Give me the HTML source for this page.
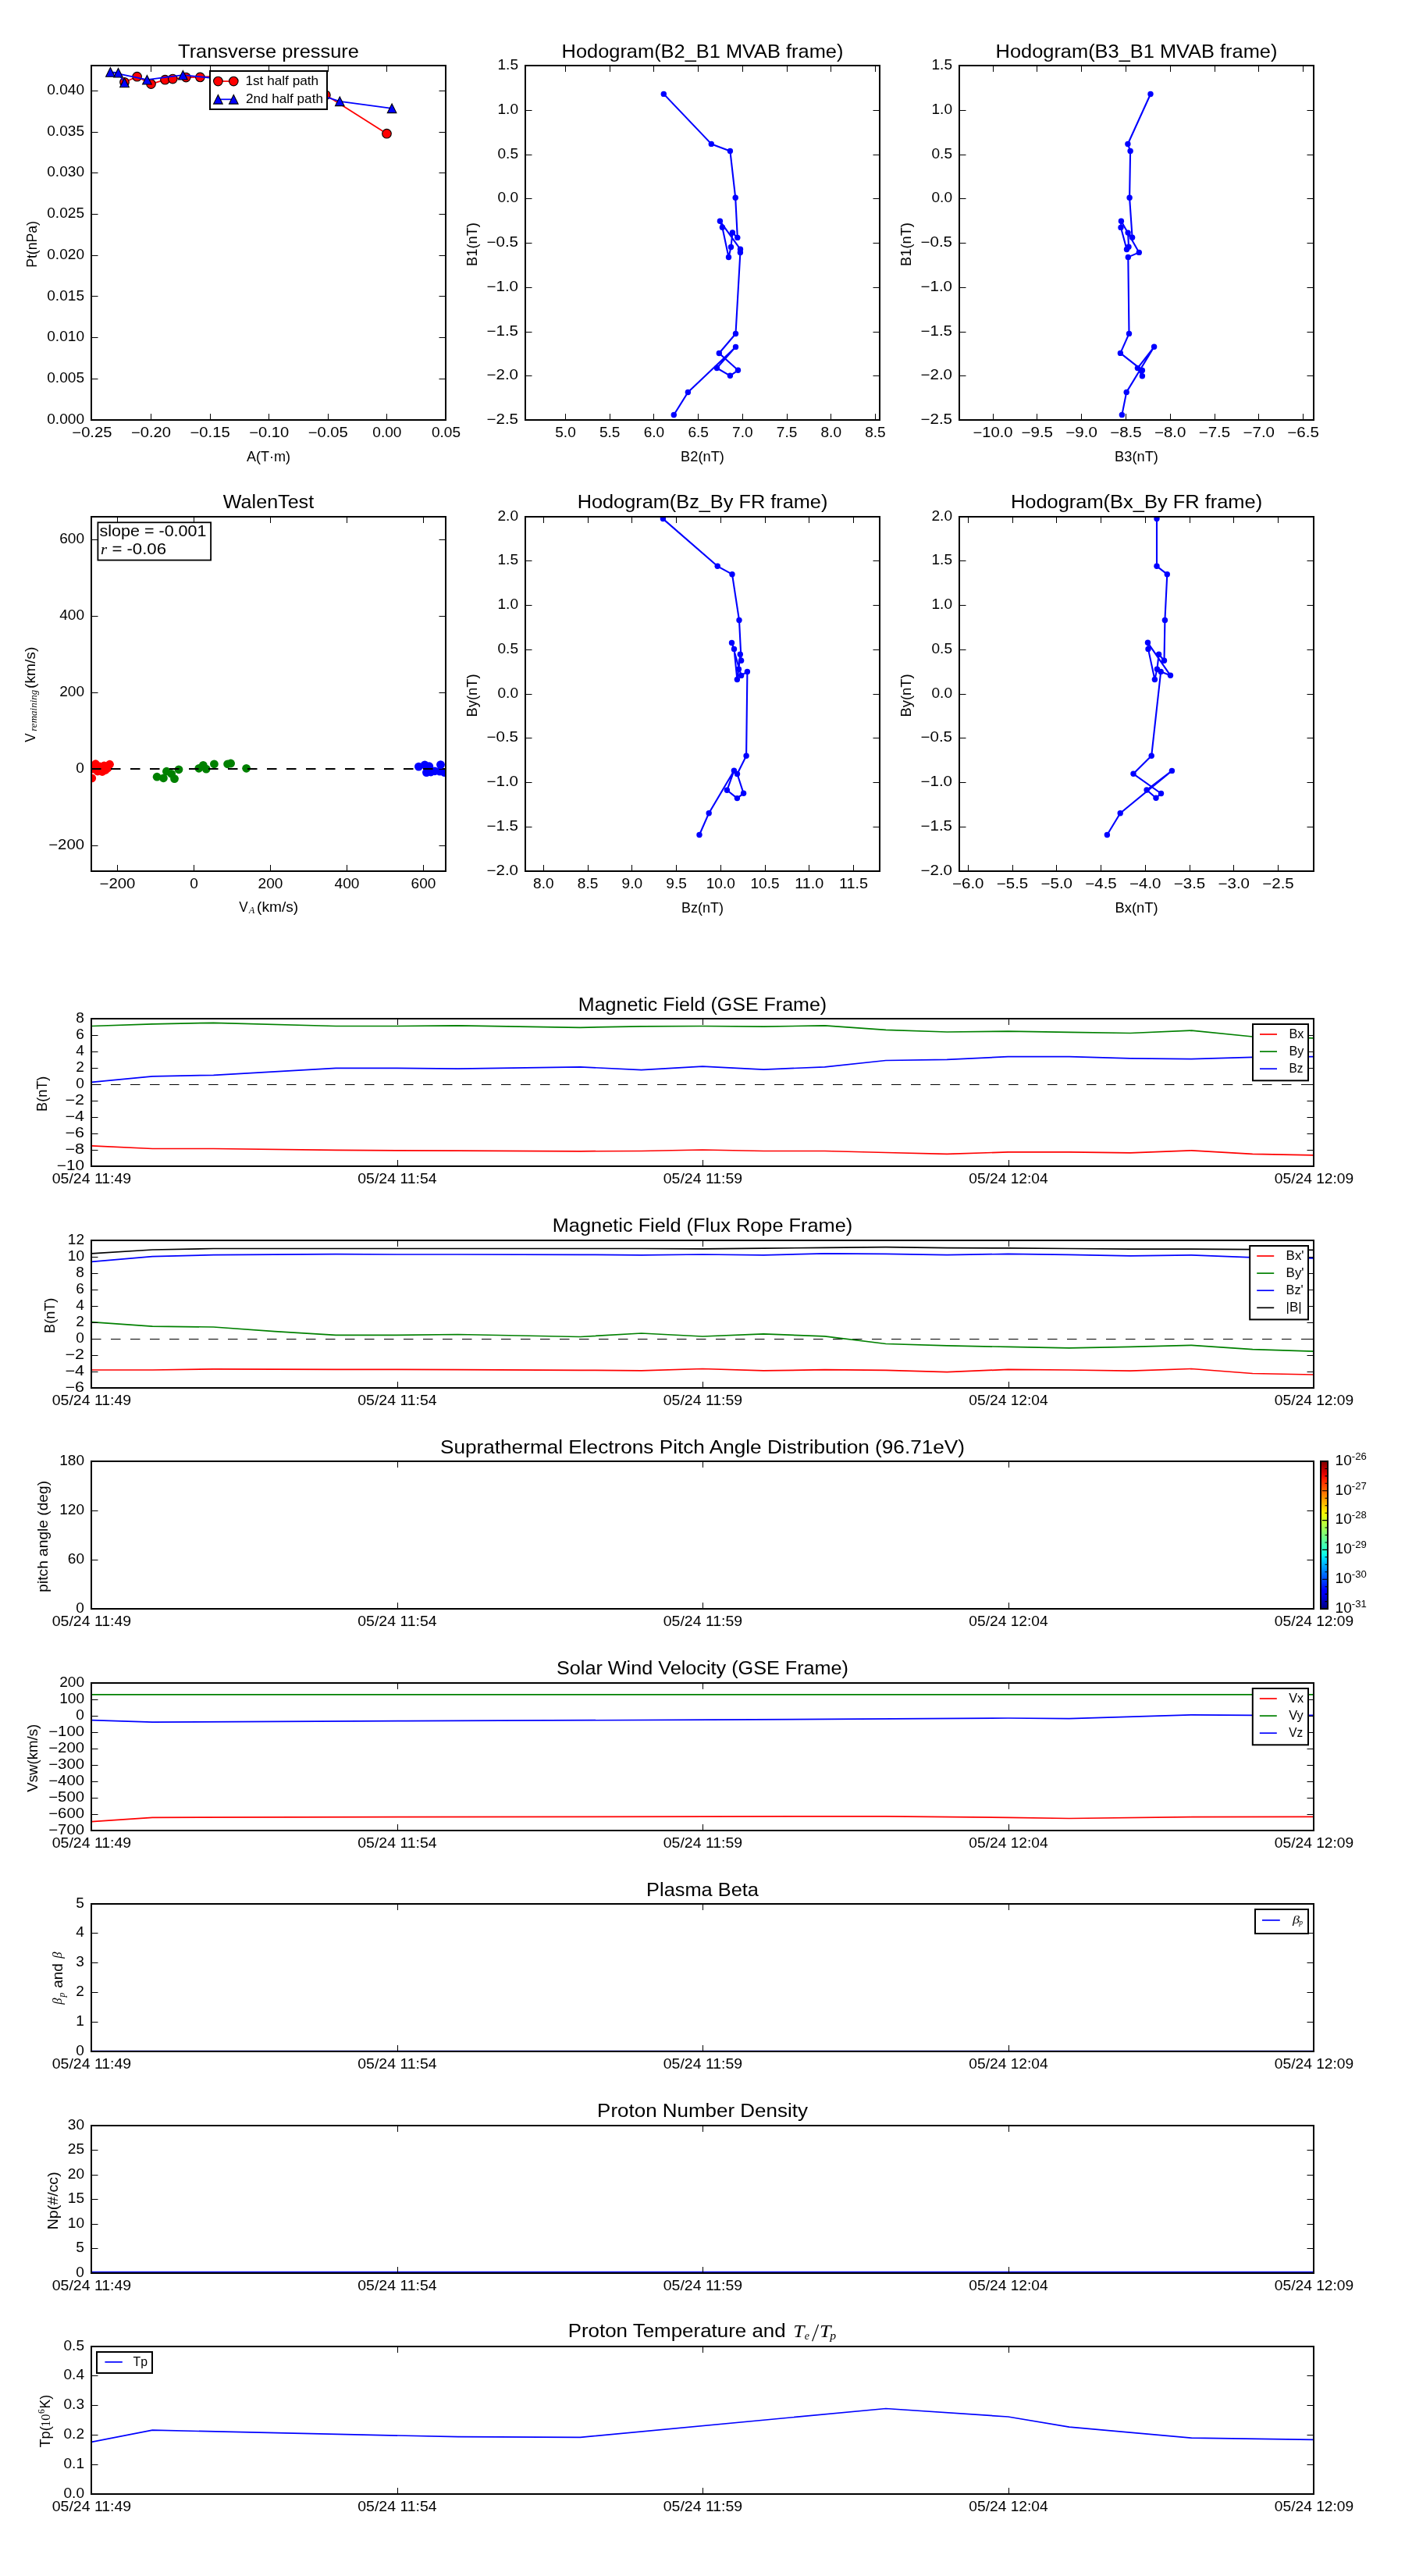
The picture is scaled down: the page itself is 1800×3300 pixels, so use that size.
<!DOCTYPE html><html><head><meta charset="utf-8"><style>html,body{margin:0;padding:0;background:#fff;}svg{display:block;font-family:"Liberation Sans",sans-serif;will-change:transform;}</style></head><body><svg width="1800" height="3300" viewBox="0 0 1800 3300" font-family="Liberation Sans, sans-serif" shape-rendering="geometricPrecision"><defs><clipPath id="c1"><rect x="117.0" y="84.0" width="454.0" height="454.0"/></clipPath><clipPath id="c2"><rect x="673.0" y="84.0" width="454.0" height="454.0"/></clipPath><clipPath id="c3"><rect x="1229.0" y="84.0" width="454.0" height="454.0"/></clipPath><clipPath id="c4"><rect x="117.0" y="662.0" width="454.0" height="454.0"/></clipPath><clipPath id="c5"><rect x="673.0" y="662.0" width="454.0" height="454.0"/></clipPath><clipPath id="c6"><rect x="1229.0" y="662.0" width="454.0" height="454.0"/></clipPath><clipPath id="c7"><rect x="117.0" y="1305.0" width="1566.0" height="189.0"/></clipPath><clipPath id="c8"><rect x="117.0" y="1589.0" width="1566.0" height="189.0"/></clipPath><linearGradient id="jet" x1="0" y1="0" x2="0" y2="1"><stop offset="0.000" stop-color="#7f0000"/><stop offset="0.025" stop-color="#9c0000"/><stop offset="0.050" stop-color="#b90000"/><stop offset="0.075" stop-color="#d60000"/><stop offset="0.100" stop-color="#f30900"/><stop offset="0.125" stop-color="#ff2100"/><stop offset="0.150" stop-color="#ff3800"/><stop offset="0.175" stop-color="#ff5000"/><stop offset="0.200" stop-color="#ff6700"/><stop offset="0.225" stop-color="#ff7f00"/><stop offset="0.250" stop-color="#ff9700"/><stop offset="0.275" stop-color="#ffae00"/><stop offset="0.300" stop-color="#ffc600"/><stop offset="0.325" stop-color="#ffdd00"/><stop offset="0.350" stop-color="#f6f500"/><stop offset="0.375" stop-color="#e2ff14"/><stop offset="0.400" stop-color="#cdff29"/><stop offset="0.425" stop-color="#b9ff3d"/><stop offset="0.450" stop-color="#a4ff52"/><stop offset="0.475" stop-color="#8fff66"/><stop offset="0.500" stop-color="#7bff7b"/><stop offset="0.525" stop-color="#66ff8f"/><stop offset="0.550" stop-color="#52ffa4"/><stop offset="0.575" stop-color="#3dffb9"/><stop offset="0.600" stop-color="#29ffcd"/><stop offset="0.625" stop-color="#14ffe2"/><stop offset="0.650" stop-color="#00e5f6"/><stop offset="0.675" stop-color="#00cbff"/><stop offset="0.700" stop-color="#00b2ff"/><stop offset="0.725" stop-color="#0099ff"/><stop offset="0.750" stop-color="#007fff"/><stop offset="0.775" stop-color="#0065ff"/><stop offset="0.800" stop-color="#004cff"/><stop offset="0.825" stop-color="#0033ff"/><stop offset="0.850" stop-color="#0019ff"/><stop offset="0.875" stop-color="#0000ff"/><stop offset="0.900" stop-color="#0000f3"/><stop offset="0.925" stop-color="#0000d6"/><stop offset="0.950" stop-color="#0000b9"/><stop offset="0.975" stop-color="#00009c"/><stop offset="1.000" stop-color="#00007f"/></linearGradient><clipPath id="c9"><rect x="117.0" y="2156.0" width="1566.0" height="189.0"/></clipPath><clipPath id="c10"><rect x="117.0" y="2439.0" width="1566.0" height="189.0"/></clipPath><clipPath id="c11"><rect x="117.0" y="2723.0" width="1566.0" height="189.0"/></clipPath><clipPath id="c12"><rect x="117.0" y="3006.0" width="1566.0" height="189.0"/></clipPath></defs><rect width="1800" height="3300" fill="#fff"/><polyline points="159.5,105.3 175.6,98.2 193.5,107.6 211.5,102.2 221.3,101.1 238.3,99.1 256.4,98.9 285.0,97.0 340.0,103.0 380.0,110.0 417.4,121.8 495.5,171.2" fill="none" stroke="#ff0000" stroke-width="1.80" stroke-linejoin="round" clip-path="url(#c1)"/>
<g fill="#ff0000" stroke="#000" stroke-width="1.10" clip-path="url(#c1)">
<circle cx="159.5" cy="105.3" r="5.80"/>
<circle cx="175.6" cy="98.2" r="5.80"/>
<circle cx="193.5" cy="107.6" r="5.80"/>
<circle cx="211.5" cy="102.2" r="5.80"/>
<circle cx="221.3" cy="101.1" r="5.80"/>
<circle cx="238.3" cy="99.1" r="5.80"/>
<circle cx="256.4" cy="98.9" r="5.80"/>
<circle cx="417.4" cy="121.8" r="5.80"/>
<circle cx="495.5" cy="171.2" r="5.80"/>
</g>
<polyline points="159.5,105.9 151.5,93.2 141.4,92.4 188.4,102.2 234.4,96.2 268.0,99.5 330.0,106.0 380.0,112.0 435.3,129.8 502.1,138.8" fill="none" stroke="#0000ff" stroke-width="1.80" stroke-linejoin="round" clip-path="url(#c1)"/>
<g fill="#0000ff" stroke="#000" stroke-width="1.1" stroke-linejoin="miter" clip-path="url(#c1)">
<polygon points="159.5,100.1 153.7,111.7 165.3,111.7"/>
<polygon points="151.5,87.4 145.7,99.0 157.3,99.0"/>
<polygon points="141.4,86.6 135.6,98.2 147.2,98.2"/>
<polygon points="188.4,96.4 182.6,108.0 194.2,108.0"/>
<polygon points="234.4,90.4 228.6,102.0 240.2,102.0"/>
<polygon points="435.3,124.0 429.5,135.6 441.1,135.6"/>
<polygon points="502.1,133.0 496.3,144.6 507.9,144.6"/>
</g>
<path d="M117.5 538.0V530.0M117.5 84.0V92.0M193.5 538.0V530.0M193.5 84.0V92.0M269.5 538.0V530.0M269.5 84.0V92.0M344.5 538.0V530.0M344.5 84.0V92.0M420.5 538.0V530.0M420.5 84.0V92.0M495.5 538.0V530.0M495.5 84.0V92.0M571.5 538.0V530.0M571.5 84.0V92.0M117.0 538.5H125.5M571.0 538.5H562.5M117.0 485.5H125.5M571.0 485.5H562.5M117.0 432.5H125.5M571.0 432.5H562.5M117.0 379.5H125.5M571.0 379.5H562.5M117.0 327.5H125.5M571.0 327.5H562.5M117.0 274.5H125.5M571.0 274.5H562.5M117.0 221.5H125.5M571.0 221.5H562.5M117.0 169.5H125.5M571.0 169.5H562.5M117.0 116.5H125.5M571.0 116.5H562.5" stroke="#000" stroke-width="1" fill="none"/>
<rect x="117.0" y="84.0" width="454.0" height="454.0" fill="none" stroke="#000" stroke-width="2"/>
<text x="117.90" y="560.20" font-size="17.75" text-anchor="middle" textLength="51.08" lengthAdjust="spacingAndGlyphs">−0.25</text>
<text x="193.50" y="560.20" font-size="17.75" text-anchor="middle" textLength="51.08" lengthAdjust="spacingAndGlyphs">−0.20</text>
<text x="269.10" y="560.20" font-size="17.75" text-anchor="middle" textLength="51.08" lengthAdjust="spacingAndGlyphs">−0.15</text>
<text x="344.70" y="560.20" font-size="17.75" text-anchor="middle" textLength="51.08" lengthAdjust="spacingAndGlyphs">−0.10</text>
<text x="420.30" y="560.20" font-size="17.75" text-anchor="middle" textLength="51.08" lengthAdjust="spacingAndGlyphs">−0.05</text>
<text x="495.90" y="560.20" font-size="17.75" text-anchor="middle" textLength="37.12" lengthAdjust="spacingAndGlyphs">0.00</text>
<text x="571.50" y="560.20" font-size="17.75" text-anchor="middle" textLength="37.12" lengthAdjust="spacingAndGlyphs">0.05</text>
<text x="108.00" y="542.60" font-size="17.75" text-anchor="end" textLength="47.72" lengthAdjust="spacingAndGlyphs">0.000</text>
<text x="108.00" y="489.91" font-size="17.75" text-anchor="end" textLength="47.72" lengthAdjust="spacingAndGlyphs">0.005</text>
<text x="108.00" y="437.22" font-size="17.75" text-anchor="end" textLength="47.72" lengthAdjust="spacingAndGlyphs">0.010</text>
<text x="108.00" y="384.53" font-size="17.75" text-anchor="end" textLength="47.72" lengthAdjust="spacingAndGlyphs">0.015</text>
<text x="108.00" y="331.84" font-size="17.75" text-anchor="end" textLength="47.72" lengthAdjust="spacingAndGlyphs">0.020</text>
<text x="108.00" y="279.15" font-size="17.75" text-anchor="end" textLength="47.72" lengthAdjust="spacingAndGlyphs">0.025</text>
<text x="108.00" y="226.46" font-size="17.75" text-anchor="end" textLength="47.72" lengthAdjust="spacingAndGlyphs">0.030</text>
<text x="108.00" y="173.77" font-size="17.75" text-anchor="end" textLength="47.72" lengthAdjust="spacingAndGlyphs">0.035</text>
<text x="108.00" y="121.08" font-size="17.75" text-anchor="end" textLength="47.72" lengthAdjust="spacingAndGlyphs">0.040</text>
<rect x="269.0" y="91.0" width="150.0" height="49.0" fill="#fff" stroke="#000" stroke-width="2"/>
<polyline points="279.4,104.1 299.3,104.1" fill="none" stroke="#ff0000" stroke-width="1.70" stroke-linejoin="round"/>
<g fill="#ff0000" stroke="#000" stroke-width="1.10">
<circle cx="279.4" cy="104.1" r="5.80"/>
<circle cx="299.3" cy="104.1" r="5.80"/>
</g>
<text x="314.40" y="108.60" font-size="15.76" text-anchor="start" textLength="93.76" lengthAdjust="spacingAndGlyphs">1st half path</text>
<polyline points="279.4,127.3 299.3,127.3" fill="none" stroke="#0000ff" stroke-width="1.70" stroke-linejoin="round"/>
<g fill="#0000ff" stroke="#000" stroke-width="1.1" stroke-linejoin="miter">
<polygon points="279.4,121.5 273.6,133.1 285.2,133.1"/>
<polygon points="299.3,121.5 293.5,133.1 305.1,133.1"/>
</g>
<text x="314.90" y="131.60" font-size="15.76" text-anchor="start" textLength="99.02" lengthAdjust="spacingAndGlyphs">2nd half path</text>
<text x="344.00" y="73.80" font-size="24.60" text-anchor="middle" textLength="231.79" lengthAdjust="spacingAndGlyphs">Transverse pressure</text>
<text x="344.00" y="591.00" font-size="17.75" text-anchor="middle" textLength="56.13" lengthAdjust="spacingAndGlyphs">A(T·m)</text>
<text transform="translate(46.90 313.00) rotate(-90)" x="0" y="0" font-size="17.75" text-anchor="middle" textLength="59.68" lengthAdjust="spacingAndGlyphs">Pt(nPa)</text>
<polyline points="850.3,120.4 911.3,184.4 935.4,193.4 942.2,253.3 944.8,304.4 938.4,298.0 936.5,316.5 933.5,329.5 925.4,291.3 922.4,283.2 948.5,319.3 948.4,323.5 942.5,427.5 921.3,452.5 945.5,474.3 935.4,481.3 918.4,471.5 942.5,444.4 881.4,502.5 863.3,531.5" fill="none" stroke="#0000ff" stroke-width="2.10" stroke-linejoin="round" clip-path="url(#c2)"/>
<g fill="#0000ff" clip-path="url(#c2)">
<circle cx="850.3" cy="120.4" r="3.70"/>
<circle cx="911.3" cy="184.4" r="3.70"/>
<circle cx="935.4" cy="193.4" r="3.70"/>
<circle cx="942.2" cy="253.3" r="3.70"/>
<circle cx="944.8" cy="304.4" r="3.70"/>
<circle cx="938.4" cy="298.0" r="3.70"/>
<circle cx="936.5" cy="316.5" r="3.70"/>
<circle cx="933.5" cy="329.5" r="3.70"/>
<circle cx="925.4" cy="291.3" r="3.70"/>
<circle cx="922.4" cy="283.2" r="3.70"/>
<circle cx="948.5" cy="319.3" r="3.70"/>
<circle cx="948.4" cy="323.5" r="3.70"/>
<circle cx="942.5" cy="427.5" r="3.70"/>
<circle cx="921.3" cy="452.5" r="3.70"/>
<circle cx="945.5" cy="474.3" r="3.70"/>
<circle cx="935.4" cy="481.3" r="3.70"/>
<circle cx="918.4" cy="471.5" r="3.70"/>
<circle cx="942.5" cy="444.4" r="3.70"/>
<circle cx="881.4" cy="502.5" r="3.70"/>
<circle cx="863.3" cy="531.5" r="3.70"/>
</g>
<path d="M724.5 538.0V530.0M724.5 84.0V92.0M781.5 538.0V530.0M781.5 84.0V92.0M837.5 538.0V530.0M837.5 84.0V92.0M894.5 538.0V530.0M894.5 84.0V92.0M951.5 538.0V530.0M951.5 84.0V92.0M1008.5 538.0V530.0M1008.5 84.0V92.0M1064.5 538.0V530.0M1064.5 84.0V92.0M1121.5 538.0V530.0M1121.5 84.0V92.0M673.0 538.5H681.5M1127.0 538.5H1118.5M673.0 481.5H681.5M1127.0 481.5H1118.5M673.0 425.5H681.5M1127.0 425.5H1118.5M673.0 368.5H681.5M1127.0 368.5H1118.5M673.0 311.5H681.5M1127.0 311.5H1118.5M673.0 254.5H681.5M1127.0 254.5H1118.5M673.0 198.5H681.5M1127.0 198.5H1118.5M673.0 141.5H681.5M1127.0 141.5H1118.5M673.0 84.5H681.5M1127.0 84.5H1118.5" stroke="#000" stroke-width="1" fill="none"/>
<rect x="673.0" y="84.0" width="454.0" height="454.0" fill="none" stroke="#000" stroke-width="2"/>
<text x="724.50" y="560.20" font-size="17.75" text-anchor="middle" textLength="26.51" lengthAdjust="spacingAndGlyphs">5.0</text>
<text x="781.21" y="560.20" font-size="17.75" text-anchor="middle" textLength="26.51" lengthAdjust="spacingAndGlyphs">5.5</text>
<text x="837.92" y="560.20" font-size="17.75" text-anchor="middle" textLength="26.51" lengthAdjust="spacingAndGlyphs">6.0</text>
<text x="894.63" y="560.20" font-size="17.75" text-anchor="middle" textLength="26.51" lengthAdjust="spacingAndGlyphs">6.5</text>
<text x="951.34" y="560.20" font-size="17.75" text-anchor="middle" textLength="26.51" lengthAdjust="spacingAndGlyphs">7.0</text>
<text x="1008.05" y="560.20" font-size="17.75" text-anchor="middle" textLength="26.51" lengthAdjust="spacingAndGlyphs">7.5</text>
<text x="1064.76" y="560.20" font-size="17.75" text-anchor="middle" textLength="26.51" lengthAdjust="spacingAndGlyphs">8.0</text>
<text x="1121.47" y="560.20" font-size="17.75" text-anchor="middle" textLength="26.51" lengthAdjust="spacingAndGlyphs">8.5</text>
<text x="664.00" y="543.10" font-size="17.75" text-anchor="end" textLength="40.48" lengthAdjust="spacingAndGlyphs">−2.5</text>
<text x="664.00" y="486.35" font-size="17.75" text-anchor="end" textLength="40.48" lengthAdjust="spacingAndGlyphs">−2.0</text>
<text x="664.00" y="429.60" font-size="17.75" text-anchor="end" textLength="40.48" lengthAdjust="spacingAndGlyphs">−1.5</text>
<text x="664.00" y="372.85" font-size="17.75" text-anchor="end" textLength="40.48" lengthAdjust="spacingAndGlyphs">−1.0</text>
<text x="664.00" y="316.10" font-size="17.75" text-anchor="end" textLength="40.48" lengthAdjust="spacingAndGlyphs">−0.5</text>
<text x="664.00" y="259.35" font-size="17.75" text-anchor="end" textLength="26.51" lengthAdjust="spacingAndGlyphs">0.0</text>
<text x="664.00" y="202.60" font-size="17.75" text-anchor="end" textLength="26.51" lengthAdjust="spacingAndGlyphs">0.5</text>
<text x="664.00" y="145.85" font-size="17.75" text-anchor="end" textLength="26.51" lengthAdjust="spacingAndGlyphs">1.0</text>
<text x="664.00" y="89.10" font-size="17.75" text-anchor="end" textLength="26.51" lengthAdjust="spacingAndGlyphs">1.5</text>
<text x="900.00" y="73.80" font-size="24.60" text-anchor="middle" textLength="360.87" lengthAdjust="spacingAndGlyphs">Hodogram(B2_B1 MVAB frame)</text>
<text x="900.00" y="591.00" font-size="17.75" text-anchor="middle" textLength="55.80" lengthAdjust="spacingAndGlyphs">B2(nT)</text>
<text transform="translate(610.80 313.00) rotate(-90)" x="0" y="0" font-size="17.75" text-anchor="middle" textLength="55.80" lengthAdjust="spacingAndGlyphs">B1(nT)</text>
<polyline points="1474.0,120.5 1444.9,184.5 1448.1,193.5 1447.1,253.3 1450.6,304.2 1445.1,298.1 1446.0,316.3 1443.5,319.5 1436.0,291.4 1436.4,283.3 1459.3,323.4 1445.3,329.4 1446.5,427.4 1435.4,452.4 1463.4,474.4 1463.4,481.7 1457.4,471.6 1478.6,444.3 1443.2,502.4 1437.4,531.4" fill="none" stroke="#0000ff" stroke-width="2.10" stroke-linejoin="round" clip-path="url(#c3)"/>
<g fill="#0000ff" clip-path="url(#c3)">
<circle cx="1474.0" cy="120.5" r="3.70"/>
<circle cx="1444.9" cy="184.5" r="3.70"/>
<circle cx="1448.1" cy="193.5" r="3.70"/>
<circle cx="1447.1" cy="253.3" r="3.70"/>
<circle cx="1436.4" cy="283.3" r="3.70"/>
<circle cx="1436.0" cy="291.4" r="3.70"/>
<circle cx="1445.1" cy="298.1" r="3.70"/>
<circle cx="1450.6" cy="304.2" r="3.70"/>
<circle cx="1446.0" cy="316.3" r="3.70"/>
<circle cx="1443.5" cy="319.5" r="3.70"/>
<circle cx="1459.3" cy="323.4" r="3.70"/>
<circle cx="1445.3" cy="329.4" r="3.70"/>
<circle cx="1446.5" cy="427.4" r="3.70"/>
<circle cx="1435.4" cy="452.4" r="3.70"/>
<circle cx="1478.6" cy="444.3" r="3.70"/>
<circle cx="1457.4" cy="471.6" r="3.70"/>
<circle cx="1463.4" cy="474.4" r="3.70"/>
<circle cx="1463.4" cy="481.7" r="3.70"/>
<circle cx="1443.2" cy="502.4" r="3.70"/>
<circle cx="1437.4" cy="531.4" r="3.70"/>
</g>
<path d="M1272.5 538.0V530.0M1272.5 84.0V92.0M1328.5 538.0V530.0M1328.5 84.0V92.0M1385.5 538.0V530.0M1385.5 84.0V92.0M1442.5 538.0V530.0M1442.5 84.0V92.0M1499.5 538.0V530.0M1499.5 84.0V92.0M1556.5 538.0V530.0M1556.5 84.0V92.0M1612.5 538.0V530.0M1612.5 84.0V92.0M1669.5 538.0V530.0M1669.5 84.0V92.0M1229.0 538.5H1237.5M1683.0 538.5H1674.5M1229.0 481.5H1237.5M1683.0 481.5H1674.5M1229.0 425.5H1237.5M1683.0 425.5H1674.5M1229.0 368.5H1237.5M1683.0 368.5H1674.5M1229.0 311.5H1237.5M1683.0 311.5H1674.5M1229.0 254.5H1237.5M1683.0 254.5H1674.5M1229.0 198.5H1237.5M1683.0 198.5H1674.5M1229.0 141.5H1237.5M1683.0 141.5H1674.5M1229.0 84.5H1237.5M1683.0 84.5H1674.5" stroke="#000" stroke-width="1" fill="none"/>
<rect x="1229.0" y="84.0" width="454.0" height="454.0" fill="none" stroke="#000" stroke-width="2"/>
<text x="1272.00" y="560.20" font-size="17.75" text-anchor="middle" textLength="51.08" lengthAdjust="spacingAndGlyphs">−10.0</text>
<text x="1328.80" y="560.20" font-size="17.75" text-anchor="middle" textLength="40.48" lengthAdjust="spacingAndGlyphs">−9.5</text>
<text x="1385.60" y="560.20" font-size="17.75" text-anchor="middle" textLength="40.48" lengthAdjust="spacingAndGlyphs">−9.0</text>
<text x="1442.40" y="560.20" font-size="17.75" text-anchor="middle" textLength="40.48" lengthAdjust="spacingAndGlyphs">−8.5</text>
<text x="1499.20" y="560.20" font-size="17.75" text-anchor="middle" textLength="40.48" lengthAdjust="spacingAndGlyphs">−8.0</text>
<text x="1556.00" y="560.20" font-size="17.75" text-anchor="middle" textLength="40.48" lengthAdjust="spacingAndGlyphs">−7.5</text>
<text x="1612.80" y="560.20" font-size="17.75" text-anchor="middle" textLength="40.48" lengthAdjust="spacingAndGlyphs">−7.0</text>
<text x="1669.60" y="560.20" font-size="17.75" text-anchor="middle" textLength="40.48" lengthAdjust="spacingAndGlyphs">−6.5</text>
<text x="1220.00" y="543.10" font-size="17.75" text-anchor="end" textLength="40.48" lengthAdjust="spacingAndGlyphs">−2.5</text>
<text x="1220.00" y="486.35" font-size="17.75" text-anchor="end" textLength="40.48" lengthAdjust="spacingAndGlyphs">−2.0</text>
<text x="1220.00" y="429.60" font-size="17.75" text-anchor="end" textLength="40.48" lengthAdjust="spacingAndGlyphs">−1.5</text>
<text x="1220.00" y="372.85" font-size="17.75" text-anchor="end" textLength="40.48" lengthAdjust="spacingAndGlyphs">−1.0</text>
<text x="1220.00" y="316.10" font-size="17.75" text-anchor="end" textLength="40.48" lengthAdjust="spacingAndGlyphs">−0.5</text>
<text x="1220.00" y="259.35" font-size="17.75" text-anchor="end" textLength="26.51" lengthAdjust="spacingAndGlyphs">0.0</text>
<text x="1220.00" y="202.60" font-size="17.75" text-anchor="end" textLength="26.51" lengthAdjust="spacingAndGlyphs">0.5</text>
<text x="1220.00" y="145.85" font-size="17.75" text-anchor="end" textLength="26.51" lengthAdjust="spacingAndGlyphs">1.0</text>
<text x="1220.00" y="89.10" font-size="17.75" text-anchor="end" textLength="26.51" lengthAdjust="spacingAndGlyphs">1.5</text>
<text x="1456.00" y="73.80" font-size="24.60" text-anchor="middle" textLength="360.87" lengthAdjust="spacingAndGlyphs">Hodogram(B3_B1 MVAB frame)</text>
<text x="1456.00" y="591.00" font-size="17.75" text-anchor="middle" textLength="55.80" lengthAdjust="spacingAndGlyphs">B3(nT)</text>
<text transform="translate(1166.80 313.00) rotate(-90)" x="0" y="0" font-size="17.75" text-anchor="middle" textLength="55.80" lengthAdjust="spacingAndGlyphs">B1(nT)</text>
<g fill="#ff0000" clip-path="url(#c4)">
<circle cx="117.7" cy="996.9" r="5.40"/>
<circle cx="119.0" cy="985.0" r="5.40"/>
<circle cx="122.5" cy="978.7" r="5.40"/>
<circle cx="125.0" cy="988.0" r="5.40"/>
<circle cx="128.0" cy="982.0" r="5.40"/>
<circle cx="131.0" cy="988.5" r="5.40"/>
<circle cx="133.4" cy="981.0" r="5.40"/>
<circle cx="135.0" cy="986.5" r="5.40"/>
<circle cx="140.5" cy="979.2" r="5.40"/>
<circle cx="138.0" cy="984.0" r="5.40"/>
</g>
<g fill="#008000" clip-path="url(#c4)">
<circle cx="201.1" cy="995.2" r="5.40"/>
<circle cx="209.4" cy="996.8" r="5.40"/>
<circle cx="213.4" cy="988.2" r="5.40"/>
<circle cx="219.6" cy="991.3" r="5.40"/>
<circle cx="223.5" cy="997.6" r="5.40"/>
<circle cx="229.0" cy="985.8" r="5.40"/>
<circle cx="254.8" cy="984.3" r="5.40"/>
<circle cx="260.3" cy="980.4" r="5.40"/>
<circle cx="264.2" cy="985.1" r="5.40"/>
<circle cx="274.4" cy="978.8" r="5.40"/>
<circle cx="291.6" cy="978.8" r="5.40"/>
<circle cx="295.6" cy="978.0" r="5.40"/>
<circle cx="315.6" cy="984.3" r="5.40"/>
</g>
<g fill="#0000ff" clip-path="url(#c4)">
<circle cx="536.4" cy="982.1" r="5.40"/>
<circle cx="544.2" cy="979.9" r="5.40"/>
<circle cx="549.9" cy="981.7" r="5.40"/>
<circle cx="546.4" cy="989.6" r="5.40"/>
<circle cx="557.0" cy="987.8" r="5.40"/>
<circle cx="564.5" cy="979.6" r="5.40"/>
<circle cx="563.4" cy="988.1" r="5.40"/>
<circle cx="569.5" cy="989.6" r="5.40"/>
<circle cx="552.0" cy="989.0" r="5.40"/>
</g>
<polyline points="117.0,985.0 571.0,985.0" fill="none" stroke="#000" stroke-width="2.00" stroke-linejoin="round" stroke-dasharray="12.5 12.5" clip-path="url(#c4)"/>
<path d="M150.5 1116.0V1108.0M150.5 662.0V670.0M248.5 1116.0V1108.0M248.5 662.0V670.0M346.5 1116.0V1108.0M346.5 662.0V670.0M444.5 1116.0V1108.0M444.5 662.0V670.0M542.5 1116.0V1108.0M542.5 662.0V670.0M117.0 1083.5H125.5M571.0 1083.5H562.5M117.0 985.5H125.5M571.0 985.5H562.5M117.0 887.5H125.5M571.0 887.5H562.5M117.0 789.5H125.5M571.0 789.5H562.5M117.0 691.5H125.5M571.0 691.5H562.5" stroke="#000" stroke-width="1" fill="none"/>
<rect x="117.0" y="662.0" width="454.0" height="454.0" fill="none" stroke="#000" stroke-width="2"/>
<text x="150.50" y="1138.20" font-size="17.75" text-anchor="middle" textLength="45.79" lengthAdjust="spacingAndGlyphs">−200</text>
<text x="248.50" y="1138.20" font-size="17.75" text-anchor="middle" textLength="10.61" lengthAdjust="spacingAndGlyphs">0</text>
<text x="346.50" y="1138.20" font-size="17.75" text-anchor="middle" textLength="31.82" lengthAdjust="spacingAndGlyphs">200</text>
<text x="444.50" y="1138.20" font-size="17.75" text-anchor="middle" textLength="31.82" lengthAdjust="spacingAndGlyphs">400</text>
<text x="542.50" y="1138.20" font-size="17.75" text-anchor="middle" textLength="31.82" lengthAdjust="spacingAndGlyphs">600</text>
<text x="108.00" y="1088.10" font-size="17.75" text-anchor="end" textLength="45.79" lengthAdjust="spacingAndGlyphs">−200</text>
<text x="108.00" y="990.10" font-size="17.75" text-anchor="end" textLength="10.61" lengthAdjust="spacingAndGlyphs">0</text>
<text x="108.00" y="892.10" font-size="17.75" text-anchor="end" textLength="31.82" lengthAdjust="spacingAndGlyphs">200</text>
<text x="108.00" y="794.10" font-size="17.75" text-anchor="end" textLength="31.82" lengthAdjust="spacingAndGlyphs">400</text>
<text x="108.00" y="696.10" font-size="17.75" text-anchor="end" textLength="31.82" lengthAdjust="spacingAndGlyphs">600</text>
<rect x="125.4" y="669.3" width="144.7" height="48.3" fill="#fff" stroke="#000" stroke-width="1.8"/>
<text x="127.60" y="687.30" font-size="19.81" text-anchor="start" textLength="136.86" lengthAdjust="spacingAndGlyphs">slope = -0.001</text>
<text x="128.90" y="709.60" font-family="Liberation Serif" font-style="italic" font-size="18.00" textLength="8.12" lengthAdjust="spacingAndGlyphs">r</text>
<text x="143.40" y="709.60" font-size="19.81" text-anchor="start" textLength="69.62" lengthAdjust="spacingAndGlyphs">= -0.06</text>
<text x="344.00" y="650.70" font-size="24.60" text-anchor="middle" textLength="116.28" lengthAdjust="spacingAndGlyphs">WalenTest</text>
<text x="306.20" y="1168.30" font-size="17.75" text-anchor="start" textLength="11.40" lengthAdjust="spacingAndGlyphs">V</text>
<text x="319.00" y="1169.90" font-family="Liberation Serif" font-style="italic" font-size="11.80" text-anchor="start">A</text>
<text x="329.00" y="1168.30" font-size="17.75" text-anchor="start" textLength="53.20" lengthAdjust="spacingAndGlyphs">(km/s)</text>
<g transform="translate(44.8 950.4) rotate(-90)">
<text x="-0.3" y="0" font-size="17.75" textLength="11.40" lengthAdjust="spacingAndGlyphs">V</text>
<text x="13.7" y="2.0" font-family="Liberation Serif" font-style="italic" font-size="11.8" textLength="53" lengthAdjust="spacingAndGlyphs">remaining</text>
<text x="68.5" y="0" font-size="17.75" textLength="53.20" lengthAdjust="spacingAndGlyphs">(km/s)</text>
</g>
<polyline points="849.4,664.6 919.2,725.3 938.0,735.7 947.0,794.5 949.6,846.3 948.3,838.3 946.4,857.3 944.4,870.5 940.5,831.4 937.5,823.4 949.6,865.4 957.4,860.4 956.1,968.3 944.5,991.5 952.6,1016.3 944.4,1022.6 931.4,1012.3 940.4,987.3 908.2,1041.7 896.0,1069.5" fill="none" stroke="#0000ff" stroke-width="2.10" stroke-linejoin="round" clip-path="url(#c5)"/>
<g fill="#0000ff" clip-path="url(#c5)">
<circle cx="849.4" cy="664.6" r="3.70"/>
<circle cx="919.2" cy="725.3" r="3.70"/>
<circle cx="938.0" cy="735.7" r="3.70"/>
<circle cx="947.0" cy="794.5" r="3.70"/>
<circle cx="949.6" cy="846.3" r="3.70"/>
<circle cx="948.3" cy="838.3" r="3.70"/>
<circle cx="946.4" cy="857.3" r="3.70"/>
<circle cx="944.4" cy="870.5" r="3.70"/>
<circle cx="940.5" cy="831.4" r="3.70"/>
<circle cx="937.5" cy="823.4" r="3.70"/>
<circle cx="949.6" cy="865.4" r="3.70"/>
<circle cx="957.4" cy="860.4" r="3.70"/>
<circle cx="956.1" cy="968.3" r="3.70"/>
<circle cx="944.5" cy="991.5" r="3.70"/>
<circle cx="952.6" cy="1016.3" r="3.70"/>
<circle cx="944.4" cy="1022.6" r="3.70"/>
<circle cx="931.4" cy="1012.3" r="3.70"/>
<circle cx="940.4" cy="987.3" r="3.70"/>
<circle cx="908.2" cy="1041.7" r="3.70"/>
<circle cx="896.0" cy="1069.5" r="3.70"/>
</g>
<path d="M696.5 1116.0V1108.0M696.5 662.0V670.0M753.5 1116.0V1108.0M753.5 662.0V670.0M809.5 1116.0V1108.0M809.5 662.0V670.0M866.5 1116.0V1108.0M866.5 662.0V670.0M923.5 1116.0V1108.0M923.5 662.0V670.0M980.5 1116.0V1108.0M980.5 662.0V670.0M1036.5 1116.0V1108.0M1036.5 662.0V670.0M1093.5 1116.0V1108.0M1093.5 662.0V670.0M673.0 1116.5H681.5M1127.0 1116.5H1118.5M673.0 1059.5H681.5M1127.0 1059.5H1118.5M673.0 1002.5H681.5M1127.0 1002.5H1118.5M673.0 945.5H681.5M1127.0 945.5H1118.5M673.0 889.5H681.5M1127.0 889.5H1118.5M673.0 832.5H681.5M1127.0 832.5H1118.5M673.0 775.5H681.5M1127.0 775.5H1118.5M673.0 718.5H681.5M1127.0 718.5H1118.5M673.0 662.5H681.5M1127.0 662.5H1118.5" stroke="#000" stroke-width="1" fill="none"/>
<rect x="673.0" y="662.0" width="454.0" height="454.0" fill="none" stroke="#000" stroke-width="2"/>
<text x="696.30" y="1138.20" font-size="17.75" text-anchor="middle" textLength="26.51" lengthAdjust="spacingAndGlyphs">8.0</text>
<text x="753.05" y="1138.20" font-size="17.75" text-anchor="middle" textLength="26.51" lengthAdjust="spacingAndGlyphs">8.5</text>
<text x="809.80" y="1138.20" font-size="17.75" text-anchor="middle" textLength="26.51" lengthAdjust="spacingAndGlyphs">9.0</text>
<text x="866.55" y="1138.20" font-size="17.75" text-anchor="middle" textLength="26.51" lengthAdjust="spacingAndGlyphs">9.5</text>
<text x="923.30" y="1138.20" font-size="17.75" text-anchor="middle" textLength="37.12" lengthAdjust="spacingAndGlyphs">10.0</text>
<text x="980.05" y="1138.20" font-size="17.75" text-anchor="middle" textLength="37.12" lengthAdjust="spacingAndGlyphs">10.5</text>
<text x="1036.80" y="1138.20" font-size="17.75" text-anchor="middle" textLength="37.12" lengthAdjust="spacingAndGlyphs">11.0</text>
<text x="1093.55" y="1138.20" font-size="17.75" text-anchor="middle" textLength="37.12" lengthAdjust="spacingAndGlyphs">11.5</text>
<text x="664.00" y="1120.60" font-size="17.75" text-anchor="end" textLength="40.48" lengthAdjust="spacingAndGlyphs">−2.0</text>
<text x="664.00" y="1063.85" font-size="17.75" text-anchor="end" textLength="40.48" lengthAdjust="spacingAndGlyphs">−1.5</text>
<text x="664.00" y="1007.10" font-size="17.75" text-anchor="end" textLength="40.48" lengthAdjust="spacingAndGlyphs">−1.0</text>
<text x="664.00" y="950.35" font-size="17.75" text-anchor="end" textLength="40.48" lengthAdjust="spacingAndGlyphs">−0.5</text>
<text x="664.00" y="893.60" font-size="17.75" text-anchor="end" textLength="26.51" lengthAdjust="spacingAndGlyphs">0.0</text>
<text x="664.00" y="836.85" font-size="17.75" text-anchor="end" textLength="26.51" lengthAdjust="spacingAndGlyphs">0.5</text>
<text x="664.00" y="780.10" font-size="17.75" text-anchor="end" textLength="26.51" lengthAdjust="spacingAndGlyphs">1.0</text>
<text x="664.00" y="723.35" font-size="17.75" text-anchor="end" textLength="26.51" lengthAdjust="spacingAndGlyphs">1.5</text>
<text x="664.00" y="666.60" font-size="17.75" text-anchor="end" textLength="26.51" lengthAdjust="spacingAndGlyphs">2.0</text>
<text x="900.00" y="650.70" font-size="24.60" text-anchor="middle" textLength="320.71" lengthAdjust="spacingAndGlyphs">Hodogram(Bz_By FR frame)</text>
<text x="900.00" y="1169.00" font-size="17.75" text-anchor="middle" textLength="53.94" lengthAdjust="spacingAndGlyphs">Bz(nT)</text>
<text transform="translate(611.00 891.00) rotate(-90)" x="0" y="0" font-size="17.75" text-anchor="middle" textLength="55.06" lengthAdjust="spacingAndGlyphs">By(nT)</text>
<polyline points="1482.0,664.6 1482.0,725.3 1495.3,735.7 1492.4,794.5 1491.5,846.3 1484.6,838.3 1482.4,857.3 1479.4,870.5 1471.0,831.4 1470.5,823.3 1499.5,865.3 1487.2,860.4 1475.2,968.3 1452.0,991.3 1487.5,1016.5 1481.0,1022.3 1469.1,1012.0 1501.4,987.4 1435.2,1041.7 1418.4,1069.5" fill="none" stroke="#0000ff" stroke-width="2.10" stroke-linejoin="round" clip-path="url(#c6)"/>
<g fill="#0000ff" clip-path="url(#c6)">
<circle cx="1482.0" cy="664.6" r="3.70"/>
<circle cx="1482.0" cy="725.3" r="3.70"/>
<circle cx="1495.3" cy="735.7" r="3.70"/>
<circle cx="1492.4" cy="794.5" r="3.70"/>
<circle cx="1491.5" cy="846.3" r="3.70"/>
<circle cx="1484.6" cy="838.3" r="3.70"/>
<circle cx="1482.4" cy="857.3" r="3.70"/>
<circle cx="1479.4" cy="870.5" r="3.70"/>
<circle cx="1471.0" cy="831.4" r="3.70"/>
<circle cx="1470.5" cy="823.3" r="3.70"/>
<circle cx="1499.5" cy="865.3" r="3.70"/>
<circle cx="1487.2" cy="860.4" r="3.70"/>
<circle cx="1475.2" cy="968.3" r="3.70"/>
<circle cx="1452.0" cy="991.3" r="3.70"/>
<circle cx="1487.5" cy="1016.5" r="3.70"/>
<circle cx="1481.0" cy="1022.3" r="3.70"/>
<circle cx="1469.1" cy="1012.0" r="3.70"/>
<circle cx="1501.4" cy="987.4" r="3.70"/>
<circle cx="1435.2" cy="1041.7" r="3.70"/>
<circle cx="1418.4" cy="1069.5" r="3.70"/>
</g>
<path d="M1240.5 1116.0V1108.0M1240.5 662.0V670.0M1297.5 1116.0V1108.0M1297.5 662.0V670.0M1353.5 1116.0V1108.0M1353.5 662.0V670.0M1410.5 1116.0V1108.0M1410.5 662.0V670.0M1467.5 1116.0V1108.0M1467.5 662.0V670.0M1524.5 1116.0V1108.0M1524.5 662.0V670.0M1580.5 1116.0V1108.0M1580.5 662.0V670.0M1637.5 1116.0V1108.0M1637.5 662.0V670.0M1229.0 1116.5H1237.5M1683.0 1116.5H1674.5M1229.0 1059.5H1237.5M1683.0 1059.5H1674.5M1229.0 1002.5H1237.5M1683.0 1002.5H1674.5M1229.0 945.5H1237.5M1683.0 945.5H1674.5M1229.0 889.5H1237.5M1683.0 889.5H1674.5M1229.0 832.5H1237.5M1683.0 832.5H1674.5M1229.0 775.5H1237.5M1683.0 775.5H1674.5M1229.0 718.5H1237.5M1683.0 718.5H1674.5M1229.0 662.5H1237.5M1683.0 662.5H1674.5" stroke="#000" stroke-width="1" fill="none"/>
<rect x="1229.0" y="662.0" width="454.0" height="454.0" fill="none" stroke="#000" stroke-width="2"/>
<text x="1240.30" y="1138.20" font-size="17.75" text-anchor="middle" textLength="40.48" lengthAdjust="spacingAndGlyphs">−6.0</text>
<text x="1297.05" y="1138.20" font-size="17.75" text-anchor="middle" textLength="40.48" lengthAdjust="spacingAndGlyphs">−5.5</text>
<text x="1353.80" y="1138.20" font-size="17.75" text-anchor="middle" textLength="40.48" lengthAdjust="spacingAndGlyphs">−5.0</text>
<text x="1410.55" y="1138.20" font-size="17.75" text-anchor="middle" textLength="40.48" lengthAdjust="spacingAndGlyphs">−4.5</text>
<text x="1467.30" y="1138.20" font-size="17.75" text-anchor="middle" textLength="40.48" lengthAdjust="spacingAndGlyphs">−4.0</text>
<text x="1524.05" y="1138.20" font-size="17.75" text-anchor="middle" textLength="40.48" lengthAdjust="spacingAndGlyphs">−3.5</text>
<text x="1580.80" y="1138.20" font-size="17.75" text-anchor="middle" textLength="40.48" lengthAdjust="spacingAndGlyphs">−3.0</text>
<text x="1637.55" y="1138.20" font-size="17.75" text-anchor="middle" textLength="40.48" lengthAdjust="spacingAndGlyphs">−2.5</text>
<text x="1220.00" y="1120.60" font-size="17.75" text-anchor="end" textLength="40.48" lengthAdjust="spacingAndGlyphs">−2.0</text>
<text x="1220.00" y="1063.85" font-size="17.75" text-anchor="end" textLength="40.48" lengthAdjust="spacingAndGlyphs">−1.5</text>
<text x="1220.00" y="1007.10" font-size="17.75" text-anchor="end" textLength="40.48" lengthAdjust="spacingAndGlyphs">−1.0</text>
<text x="1220.00" y="950.35" font-size="17.75" text-anchor="end" textLength="40.48" lengthAdjust="spacingAndGlyphs">−0.5</text>
<text x="1220.00" y="893.60" font-size="17.75" text-anchor="end" textLength="26.51" lengthAdjust="spacingAndGlyphs">0.0</text>
<text x="1220.00" y="836.85" font-size="17.75" text-anchor="end" textLength="26.51" lengthAdjust="spacingAndGlyphs">0.5</text>
<text x="1220.00" y="780.10" font-size="17.75" text-anchor="end" textLength="26.51" lengthAdjust="spacingAndGlyphs">1.0</text>
<text x="1220.00" y="723.35" font-size="17.75" text-anchor="end" textLength="26.51" lengthAdjust="spacingAndGlyphs">1.5</text>
<text x="1220.00" y="666.60" font-size="17.75" text-anchor="end" textLength="26.51" lengthAdjust="spacingAndGlyphs">2.0</text>
<text x="1456.00" y="650.70" font-size="24.60" text-anchor="middle" textLength="322.25" lengthAdjust="spacingAndGlyphs">Hodogram(Bx_By FR frame)</text>
<text x="1456.00" y="1169.00" font-size="17.75" text-anchor="middle" textLength="55.06" lengthAdjust="spacingAndGlyphs">Bx(nT)</text>
<text transform="translate(1167.00 891.00) rotate(-90)" x="0" y="0" font-size="17.75" text-anchor="middle" textLength="55.06" lengthAdjust="spacingAndGlyphs">By(nT)</text>
<polyline points="117.0,1389.5 1683.0,1389.5" fill="none" stroke="#000" stroke-width="1.00" stroke-linejoin="round" stroke-dasharray="12.5 12.5" clip-path="url(#c7)"/>
<polyline points="117.0,1467.9 195.3,1471.5 273.6,1471.5 430.2,1473.3 508.5,1473.9 586.8,1474.2 743.4,1474.8 821.7,1474.5 900.0,1473.0 978.3,1474.5 1056.6,1474.5 1134.9,1476.5 1213.2,1478.3 1291.5,1475.9 1369.8,1475.9 1448.1,1476.8 1526.4,1473.9 1604.7,1478.3 1683.0,1479.8" fill="none" stroke="#ff0000" stroke-width="1.70" stroke-linejoin="round" clip-path="url(#c7)"/>
<polyline points="117.0,1314.5 195.3,1311.8 273.6,1310.3 430.2,1314.5 508.5,1314.5 586.8,1313.9 743.4,1316.3 821.7,1314.8 900.0,1314.5 978.3,1315.1 1056.6,1313.9 1134.9,1319.3 1213.2,1322.0 1291.5,1321.1 1369.8,1322.3 1448.1,1323.5 1526.4,1320.2 1604.7,1328.0 1683.0,1329.8" fill="none" stroke="#008000" stroke-width="1.70" stroke-linejoin="round" clip-path="url(#c7)"/>
<polyline points="117.0,1386.3 195.3,1378.8 273.6,1377.3 430.2,1368.3 508.5,1368.3 586.8,1369.2 743.4,1366.8 821.7,1370.7 900.0,1366.2 978.3,1370.1 1056.6,1366.8 1134.9,1358.5 1213.2,1357.3 1291.5,1353.7 1369.8,1353.7 1448.1,1355.8 1526.4,1356.7 1604.7,1354.3 1683.0,1353.7" fill="none" stroke="#0000ff" stroke-width="1.70" stroke-linejoin="round" clip-path="url(#c7)"/>
<path d="M117.5 1494.0V1486.0M117.5 1305.0V1313.0M509.5 1494.0V1486.0M509.5 1305.0V1313.0M900.5 1494.0V1486.0M900.5 1305.0V1313.0M1292.5 1494.0V1486.0M1292.5 1305.0V1313.0M1683.5 1494.0V1486.0M1683.5 1305.0V1313.0M117.0 1305.5H125.5M1683.0 1305.5H1674.5M117.0 1326.5H125.5M1683.0 1326.5H1674.5M117.0 1347.5H125.5M1683.0 1347.5H1674.5M117.0 1368.5H125.5M1683.0 1368.5H1674.5M117.0 1389.5H125.5M1683.0 1389.5H1674.5M117.0 1410.5H125.5M1683.0 1410.5H1674.5M117.0 1431.5H125.5M1683.0 1431.5H1674.5M117.0 1452.5H125.5M1683.0 1452.5H1674.5M117.0 1473.5H125.5M1683.0 1473.5H1674.5M117.0 1494.5H125.5M1683.0 1494.5H1674.5" stroke="#000" stroke-width="1" fill="none"/>
<rect x="117.0" y="1305.0" width="1566.0" height="189.0" fill="none" stroke="#000" stroke-width="2"/>
<text x="117.50" y="1516.20" font-size="17.75" text-anchor="middle" textLength="101.38" lengthAdjust="spacingAndGlyphs">05/24 11:49</text>
<text x="509.00" y="1516.20" font-size="17.75" text-anchor="middle" textLength="101.38" lengthAdjust="spacingAndGlyphs">05/24 11:54</text>
<text x="900.50" y="1516.20" font-size="17.75" text-anchor="middle" textLength="101.38" lengthAdjust="spacingAndGlyphs">05/24 11:59</text>
<text x="1292.00" y="1516.20" font-size="17.75" text-anchor="middle" textLength="101.38" lengthAdjust="spacingAndGlyphs">05/24 12:04</text>
<text x="1683.50" y="1516.20" font-size="17.75" text-anchor="middle" textLength="101.38" lengthAdjust="spacingAndGlyphs">05/24 12:09</text>
<text x="108.00" y="1309.60" font-size="17.75" text-anchor="end" textLength="10.61" lengthAdjust="spacingAndGlyphs">8</text>
<text x="108.00" y="1330.60" font-size="17.75" text-anchor="end" textLength="10.61" lengthAdjust="spacingAndGlyphs">6</text>
<text x="108.00" y="1351.60" font-size="17.75" text-anchor="end" textLength="10.61" lengthAdjust="spacingAndGlyphs">4</text>
<text x="108.00" y="1372.60" font-size="17.75" text-anchor="end" textLength="10.61" lengthAdjust="spacingAndGlyphs">2</text>
<text x="108.00" y="1393.60" font-size="17.75" text-anchor="end" textLength="10.61" lengthAdjust="spacingAndGlyphs">0</text>
<text x="108.00" y="1414.60" font-size="17.75" text-anchor="end" textLength="24.57" lengthAdjust="spacingAndGlyphs">−2</text>
<text x="108.00" y="1435.60" font-size="17.75" text-anchor="end" textLength="24.57" lengthAdjust="spacingAndGlyphs">−4</text>
<text x="108.00" y="1456.60" font-size="17.75" text-anchor="end" textLength="24.57" lengthAdjust="spacingAndGlyphs">−6</text>
<text x="108.00" y="1477.60" font-size="17.75" text-anchor="end" textLength="24.57" lengthAdjust="spacingAndGlyphs">−8</text>
<text x="108.00" y="1498.60" font-size="17.75" text-anchor="end" textLength="35.18" lengthAdjust="spacingAndGlyphs">−10</text>
<text x="900.00" y="1294.80" font-size="24.60" text-anchor="middle" textLength="318.28" lengthAdjust="spacingAndGlyphs">Magnetic Field (GSE Frame)</text>
<text transform="translate(59.90 1401.30) rotate(-90)" x="0" y="0" font-size="17.75" text-anchor="middle" textLength="45.19" lengthAdjust="spacingAndGlyphs">B(nT)</text>
<rect x="1605.0" y="1312.0" width="71.0" height="72.3" fill="#fff" stroke="#000" stroke-width="2"/>
<polyline points="1614.0,1325.0 1636.0,1325.0" fill="none" stroke="#ff0000" stroke-width="1.70" stroke-linejoin="round"/>
<text x="1651.40" y="1329.70" font-size="15.76" text-anchor="start" textLength="18.91" lengthAdjust="spacingAndGlyphs">Bx</text>
<polyline points="1614.0,1347.1 1636.0,1347.1" fill="none" stroke="#008000" stroke-width="1.70" stroke-linejoin="round"/>
<text x="1651.40" y="1351.80" font-size="15.76" text-anchor="start" textLength="18.91" lengthAdjust="spacingAndGlyphs">By</text>
<polyline points="1614.0,1369.2 1636.0,1369.2" fill="none" stroke="#0000ff" stroke-width="1.70" stroke-linejoin="round"/>
<text x="1651.40" y="1373.90" font-size="15.76" text-anchor="start" textLength="17.92" lengthAdjust="spacingAndGlyphs">Bz</text>
<polyline points="117.0,1715.5 1683.0,1715.5" fill="none" stroke="#000" stroke-width="1.00" stroke-linejoin="round" stroke-dasharray="12.5 12.5" clip-path="url(#c8)"/>
<polyline points="117.0,1755.0 195.3,1755.0 273.6,1753.8 430.2,1754.4 508.5,1754.4 586.8,1754.6 743.4,1755.3 821.7,1755.9 900.0,1753.5 978.3,1755.9 1056.6,1754.7 1134.9,1755.3 1213.2,1757.7 1291.5,1754.4 1369.8,1755.0 1448.1,1756.2 1526.4,1753.5 1604.7,1759.5 1683.0,1761.0" fill="none" stroke="#ff0000" stroke-width="1.70" stroke-linejoin="round" clip-path="url(#c8)"/>
<polyline points="117.0,1693.7 195.3,1699.1 273.6,1700.0 351.9,1705.6 430.2,1710.4 508.5,1710.4 586.8,1709.5 743.4,1712.5 821.7,1708.0 900.0,1712.0 978.3,1708.9 1056.6,1711.9 1134.9,1721.5 1213.2,1723.9 1291.5,1725.4 1369.8,1726.9 1448.1,1725.4 1526.4,1723.3 1604.7,1728.7 1683.0,1731.1" fill="none" stroke="#008000" stroke-width="1.70" stroke-linejoin="round" clip-path="url(#c8)"/>
<polyline points="117.0,1616.3 195.3,1609.7 273.6,1607.6 430.2,1606.7 508.5,1607.0 586.8,1607.0 743.4,1607.3 821.7,1607.9 900.0,1607.0 978.3,1607.9 1056.6,1605.8 1134.9,1606.4 1213.2,1607.6 1291.5,1606.4 1369.8,1607.3 1448.1,1608.8 1526.4,1607.9 1604.7,1610.9 1683.0,1611.8" fill="none" stroke="#0000ff" stroke-width="1.70" stroke-linejoin="round" clip-path="url(#c8)"/>
<polyline points="117.0,1605.8 195.3,1601.0 273.6,1599.5 430.2,1599.5 508.5,1599.5 586.8,1599.5 743.4,1599.5 821.7,1599.5 900.0,1599.8 978.3,1599.2 1056.6,1598.3 1134.9,1597.7 1213.2,1598.6 1291.5,1598.9 1369.8,1599.5 1448.1,1600.1 1526.4,1600.1 1604.7,1600.7 1683.0,1601.3" fill="none" stroke="#000000" stroke-width="1.70" stroke-linejoin="round" clip-path="url(#c8)"/>
<path d="M117.5 1778.0V1770.0M117.5 1589.0V1597.0M509.5 1778.0V1770.0M509.5 1589.0V1597.0M900.5 1778.0V1770.0M900.5 1589.0V1597.0M1292.5 1778.0V1770.0M1292.5 1589.0V1597.0M1683.5 1778.0V1770.0M1683.5 1589.0V1597.0M117.0 1589.5H125.5M1683.0 1589.5H1674.5M117.0 1610.5H125.5M1683.0 1610.5H1674.5M117.0 1631.5H125.5M1683.0 1631.5H1674.5M117.0 1652.5H125.5M1683.0 1652.5H1674.5M117.0 1673.5H125.5M1683.0 1673.5H1674.5M117.0 1694.5H125.5M1683.0 1694.5H1674.5M117.0 1715.5H125.5M1683.0 1715.5H1674.5M117.0 1736.5H125.5M1683.0 1736.5H1674.5M117.0 1757.5H125.5M1683.0 1757.5H1674.5M117.0 1778.5H125.5M1683.0 1778.5H1674.5" stroke="#000" stroke-width="1" fill="none"/>
<rect x="117.0" y="1589.0" width="1566.0" height="189.0" fill="none" stroke="#000" stroke-width="2"/>
<text x="117.50" y="1800.20" font-size="17.75" text-anchor="middle" textLength="101.38" lengthAdjust="spacingAndGlyphs">05/24 11:49</text>
<text x="509.00" y="1800.20" font-size="17.75" text-anchor="middle" textLength="101.38" lengthAdjust="spacingAndGlyphs">05/24 11:54</text>
<text x="900.50" y="1800.20" font-size="17.75" text-anchor="middle" textLength="101.38" lengthAdjust="spacingAndGlyphs">05/24 11:59</text>
<text x="1292.00" y="1800.20" font-size="17.75" text-anchor="middle" textLength="101.38" lengthAdjust="spacingAndGlyphs">05/24 12:04</text>
<text x="1683.50" y="1800.20" font-size="17.75" text-anchor="middle" textLength="101.38" lengthAdjust="spacingAndGlyphs">05/24 12:09</text>
<text x="108.00" y="1593.60" font-size="17.75" text-anchor="end" textLength="21.21" lengthAdjust="spacingAndGlyphs">12</text>
<text x="108.00" y="1614.60" font-size="17.75" text-anchor="end" textLength="21.21" lengthAdjust="spacingAndGlyphs">10</text>
<text x="108.00" y="1635.60" font-size="17.75" text-anchor="end" textLength="10.61" lengthAdjust="spacingAndGlyphs">8</text>
<text x="108.00" y="1656.60" font-size="17.75" text-anchor="end" textLength="10.61" lengthAdjust="spacingAndGlyphs">6</text>
<text x="108.00" y="1677.60" font-size="17.75" text-anchor="end" textLength="10.61" lengthAdjust="spacingAndGlyphs">4</text>
<text x="108.00" y="1698.60" font-size="17.75" text-anchor="end" textLength="10.61" lengthAdjust="spacingAndGlyphs">2</text>
<text x="108.00" y="1719.60" font-size="17.75" text-anchor="end" textLength="10.61" lengthAdjust="spacingAndGlyphs">0</text>
<text x="108.00" y="1740.60" font-size="17.75" text-anchor="end" textLength="24.57" lengthAdjust="spacingAndGlyphs">−2</text>
<text x="108.00" y="1761.60" font-size="17.75" text-anchor="end" textLength="24.57" lengthAdjust="spacingAndGlyphs">−4</text>
<text x="108.00" y="1782.60" font-size="17.75" text-anchor="end" textLength="24.57" lengthAdjust="spacingAndGlyphs">−6</text>
<text x="900.00" y="1577.60" font-size="24.60" text-anchor="middle" textLength="384.50" lengthAdjust="spacingAndGlyphs">Magnetic Field (Flux Rope Frame)</text>
<text transform="translate(69.90 1685.30) rotate(-90)" x="0" y="0" font-size="17.75" text-anchor="middle" textLength="45.19" lengthAdjust="spacingAndGlyphs">B(nT)</text>
<rect x="1601.2" y="1596.0" width="74.8" height="94.4" fill="#fff" stroke="#000" stroke-width="2"/>
<polyline points="1610.2,1609.0 1632.2,1609.0" fill="none" stroke="#ff0000" stroke-width="1.70" stroke-linejoin="round"/>
<text x="1647.60" y="1613.70" font-size="15.76" text-anchor="start" textLength="22.98" lengthAdjust="spacingAndGlyphs">Bx'</text>
<polyline points="1610.2,1631.1 1632.2,1631.1" fill="none" stroke="#008000" stroke-width="1.70" stroke-linejoin="round"/>
<text x="1647.60" y="1635.80" font-size="15.76" text-anchor="start" textLength="22.98" lengthAdjust="spacingAndGlyphs">By'</text>
<polyline points="1610.2,1653.2 1632.2,1653.2" fill="none" stroke="#0000ff" stroke-width="1.70" stroke-linejoin="round"/>
<text x="1647.60" y="1657.90" font-size="15.76" text-anchor="start" textLength="21.99" lengthAdjust="spacingAndGlyphs">Bz'</text>
<polyline points="1610.2,1675.3 1632.2,1675.3" fill="none" stroke="#000000" stroke-width="1.70" stroke-linejoin="round"/>
<text x="1647.60" y="1680.00" font-size="15.76" text-anchor="start" textLength="20.13" lengthAdjust="spacingAndGlyphs">|B|</text>
<path d="M117.5 2061.0V2053.0M117.5 1872.0V1880.0M509.5 2061.0V2053.0M509.5 1872.0V1880.0M900.5 2061.0V2053.0M900.5 1872.0V1880.0M1292.5 2061.0V2053.0M1292.5 1872.0V1880.0M1683.5 2061.0V2053.0M1683.5 1872.0V1880.0M117.0 1872.5H125.5M1683.0 1872.5H1674.5M117.0 1935.5H125.5M1683.0 1935.5H1674.5M117.0 1998.5H125.5M1683.0 1998.5H1674.5M117.0 2061.5H125.5M1683.0 2061.5H1674.5" stroke="#000" stroke-width="1" fill="none"/>
<rect x="117.0" y="1872.0" width="1566.0" height="189.0" fill="none" stroke="#000" stroke-width="2"/>
<text x="117.50" y="2083.20" font-size="17.75" text-anchor="middle" textLength="101.38" lengthAdjust="spacingAndGlyphs">05/24 11:49</text>
<text x="509.00" y="2083.20" font-size="17.75" text-anchor="middle" textLength="101.38" lengthAdjust="spacingAndGlyphs">05/24 11:54</text>
<text x="900.50" y="2083.20" font-size="17.75" text-anchor="middle" textLength="101.38" lengthAdjust="spacingAndGlyphs">05/24 11:59</text>
<text x="1292.00" y="2083.20" font-size="17.75" text-anchor="middle" textLength="101.38" lengthAdjust="spacingAndGlyphs">05/24 12:04</text>
<text x="1683.50" y="2083.20" font-size="17.75" text-anchor="middle" textLength="101.38" lengthAdjust="spacingAndGlyphs">05/24 12:09</text>
<text x="108.00" y="1876.60" font-size="17.75" text-anchor="end" textLength="31.82" lengthAdjust="spacingAndGlyphs">180</text>
<text x="108.00" y="1939.60" font-size="17.75" text-anchor="end" textLength="31.82" lengthAdjust="spacingAndGlyphs">120</text>
<text x="108.00" y="2002.60" font-size="17.75" text-anchor="end" textLength="21.21" lengthAdjust="spacingAndGlyphs">60</text>
<text x="108.00" y="2065.60" font-size="17.75" text-anchor="end" textLength="10.61" lengthAdjust="spacingAndGlyphs">0</text>
<text x="900.00" y="1861.80" font-size="24.60" text-anchor="middle" textLength="672.10" lengthAdjust="spacingAndGlyphs">Suprathermal Electrons Pitch Angle Distribution (96.71eV)</text>
<text transform="translate(61.00 1968.30) rotate(-90)" x="0" y="0" font-size="17.75" text-anchor="middle" textLength="142.75" lengthAdjust="spacingAndGlyphs">pitch angle (deg)</text>
<rect x="1692" y="1872" width="9" height="189" fill="url(#jet)"/>
<path d="M1694 1872.0H1701M1697.5 1881.5H1701M1697.5 1890.9H1701M1697.5 1900.3H1701M1694 1909.8H1701M1697.5 1919.2H1701M1697.5 1928.7H1701M1697.5 1938.2H1701M1694 1947.6H1701M1697.5 1957.0H1701M1697.5 1966.5H1701M1697.5 1976.0H1701M1694 1985.4H1701M1697.5 1994.8H1701M1697.5 2004.3H1701M1697.5 2013.8H1701M1694 2023.2H1701M1697.5 2032.7H1701M1697.5 2042.1H1701M1697.5 2051.6H1701M1694 2061.0H1701" stroke="#000" stroke-width="1.1" fill="none"/>
<rect x="1692" y="1872" width="9" height="189" fill="none" stroke="#000" stroke-width="2"/>
<text x="1710.60" y="1876.80" font-size="17.75" text-anchor="start" textLength="21.21" lengthAdjust="spacingAndGlyphs">10</text>
<text x="1731.80" y="1869.80" font-size="12.35" text-anchor="start" textLength="18.95" lengthAdjust="spacingAndGlyphs">-26</text>
<text x="1710.60" y="1914.60" font-size="17.75" text-anchor="start" textLength="21.21" lengthAdjust="spacingAndGlyphs">10</text>
<text x="1731.80" y="1907.60" font-size="12.35" text-anchor="start" textLength="18.95" lengthAdjust="spacingAndGlyphs">-27</text>
<text x="1710.60" y="1952.40" font-size="17.75" text-anchor="start" textLength="21.21" lengthAdjust="spacingAndGlyphs">10</text>
<text x="1731.80" y="1945.40" font-size="12.35" text-anchor="start" textLength="18.95" lengthAdjust="spacingAndGlyphs">-28</text>
<text x="1710.60" y="1990.20" font-size="17.75" text-anchor="start" textLength="21.21" lengthAdjust="spacingAndGlyphs">10</text>
<text x="1731.80" y="1983.20" font-size="12.35" text-anchor="start" textLength="18.95" lengthAdjust="spacingAndGlyphs">-29</text>
<text x="1710.60" y="2028.00" font-size="17.75" text-anchor="start" textLength="21.21" lengthAdjust="spacingAndGlyphs">10</text>
<text x="1731.80" y="2021.00" font-size="12.35" text-anchor="start" textLength="18.95" lengthAdjust="spacingAndGlyphs">-30</text>
<text x="1710.60" y="2065.80" font-size="17.75" text-anchor="start" textLength="21.21" lengthAdjust="spacingAndGlyphs">10</text>
<text x="1731.80" y="2058.80" font-size="12.35" text-anchor="start" textLength="18.95" lengthAdjust="spacingAndGlyphs">-31</text>
<polyline points="117.0,2170.8 1683.0,2170.8" fill="none" stroke="#008000" stroke-width="1.70" stroke-linejoin="round" clip-path="url(#c9)"/>
<polyline points="117.0,2333.7 195.3,2328.3 520.0,2327.7 910.0,2327.1 1134.9,2326.8 1291.5,2328.3 1369.8,2329.5 1526.4,2327.7 1683.0,2327.4" fill="none" stroke="#ff0000" stroke-width="1.70" stroke-linejoin="round" clip-path="url(#c9)"/>
<polyline points="117.0,2203.7 195.3,2206.1 520.0,2204.6 910.0,2203.2 1291.5,2201.0 1369.8,2201.6 1526.4,2196.8 1604.7,2197.4 1683.0,2197.4" fill="none" stroke="#0000ff" stroke-width="1.70" stroke-linejoin="round" clip-path="url(#c9)"/>
<path d="M117.5 2345.0V2337.0M117.5 2156.0V2164.0M509.5 2345.0V2337.0M509.5 2156.0V2164.0M900.5 2345.0V2337.0M900.5 2156.0V2164.0M1292.5 2345.0V2337.0M1292.5 2156.0V2164.0M1683.5 2345.0V2337.0M1683.5 2156.0V2164.0M117.0 2156.5H125.5M1683.0 2156.5H1674.5M117.0 2177.5H125.5M1683.0 2177.5H1674.5M117.0 2198.5H125.5M1683.0 2198.5H1674.5M117.0 2219.5H125.5M1683.0 2219.5H1674.5M117.0 2240.5H125.5M1683.0 2240.5H1674.5M117.0 2261.5H125.5M1683.0 2261.5H1674.5M117.0 2282.5H125.5M1683.0 2282.5H1674.5M117.0 2303.5H125.5M1683.0 2303.5H1674.5M117.0 2324.5H125.5M1683.0 2324.5H1674.5M117.0 2345.5H125.5M1683.0 2345.5H1674.5" stroke="#000" stroke-width="1" fill="none"/>
<rect x="117.0" y="2156.0" width="1566.0" height="189.0" fill="none" stroke="#000" stroke-width="2"/>
<text x="117.50" y="2367.20" font-size="17.75" text-anchor="middle" textLength="101.38" lengthAdjust="spacingAndGlyphs">05/24 11:49</text>
<text x="509.00" y="2367.20" font-size="17.75" text-anchor="middle" textLength="101.38" lengthAdjust="spacingAndGlyphs">05/24 11:54</text>
<text x="900.50" y="2367.20" font-size="17.75" text-anchor="middle" textLength="101.38" lengthAdjust="spacingAndGlyphs">05/24 11:59</text>
<text x="1292.00" y="2367.20" font-size="17.75" text-anchor="middle" textLength="101.38" lengthAdjust="spacingAndGlyphs">05/24 12:04</text>
<text x="1683.50" y="2367.20" font-size="17.75" text-anchor="middle" textLength="101.38" lengthAdjust="spacingAndGlyphs">05/24 12:09</text>
<text x="108.00" y="2160.60" font-size="17.75" text-anchor="end" textLength="31.82" lengthAdjust="spacingAndGlyphs">200</text>
<text x="108.00" y="2181.60" font-size="17.75" text-anchor="end" textLength="31.82" lengthAdjust="spacingAndGlyphs">100</text>
<text x="108.00" y="2202.60" font-size="17.75" text-anchor="end" textLength="10.61" lengthAdjust="spacingAndGlyphs">0</text>
<text x="108.00" y="2223.60" font-size="17.75" text-anchor="end" textLength="45.79" lengthAdjust="spacingAndGlyphs">−100</text>
<text x="108.00" y="2244.60" font-size="17.75" text-anchor="end" textLength="45.79" lengthAdjust="spacingAndGlyphs">−200</text>
<text x="108.00" y="2265.60" font-size="17.75" text-anchor="end" textLength="45.79" lengthAdjust="spacingAndGlyphs">−300</text>
<text x="108.00" y="2286.60" font-size="17.75" text-anchor="end" textLength="45.79" lengthAdjust="spacingAndGlyphs">−400</text>
<text x="108.00" y="2307.60" font-size="17.75" text-anchor="end" textLength="45.79" lengthAdjust="spacingAndGlyphs">−500</text>
<text x="108.00" y="2328.60" font-size="17.75" text-anchor="end" textLength="45.79" lengthAdjust="spacingAndGlyphs">−600</text>
<text x="108.00" y="2349.60" font-size="17.75" text-anchor="end" textLength="45.79" lengthAdjust="spacingAndGlyphs">−700</text>
<text x="900.00" y="2144.80" font-size="24.60" text-anchor="middle" textLength="374.07" lengthAdjust="spacingAndGlyphs">Solar Wind Velocity (GSE Frame)</text>
<text transform="translate(48.10 2252.30) rotate(-90)" x="0" y="0" font-size="17.75" text-anchor="middle" textLength="86.92" lengthAdjust="spacingAndGlyphs">Vsw(km/s)</text>
<rect x="1604.8" y="2163.0" width="71.2" height="72.3" fill="#fff" stroke="#000" stroke-width="2"/>
<polyline points="1613.8,2176.0 1635.8,2176.0" fill="none" stroke="#ff0000" stroke-width="1.70" stroke-linejoin="round"/>
<text x="1651.20" y="2180.70" font-size="15.76" text-anchor="start" textLength="18.88" lengthAdjust="spacingAndGlyphs">Vx</text>
<polyline points="1613.8,2198.1 1635.8,2198.1" fill="none" stroke="#008000" stroke-width="1.70" stroke-linejoin="round"/>
<text x="1651.20" y="2202.80" font-size="15.76" text-anchor="start" textLength="18.49" lengthAdjust="spacingAndGlyphs">Vy</text>
<polyline points="1613.8,2220.2 1635.8,2220.2" fill="none" stroke="#0000ff" stroke-width="1.70" stroke-linejoin="round"/>
<text x="1651.20" y="2224.90" font-size="15.76" text-anchor="start" textLength="17.89" lengthAdjust="spacingAndGlyphs">Vz</text>
<polyline points="117.0,2627.6 1683.0,2627.6" fill="none" stroke="#0000ff" stroke-width="1.70" stroke-linejoin="round" clip-path="url(#c10)"/>
<path d="M117.5 2628.0V2620.0M117.5 2439.0V2447.0M509.5 2628.0V2620.0M509.5 2439.0V2447.0M900.5 2628.0V2620.0M900.5 2439.0V2447.0M1292.5 2628.0V2620.0M1292.5 2439.0V2447.0M1683.5 2628.0V2620.0M1683.5 2439.0V2447.0M117.0 2439.5H125.5M1683.0 2439.5H1674.5M117.0 2476.5H125.5M1683.0 2476.5H1674.5M117.0 2514.5H125.5M1683.0 2514.5H1674.5M117.0 2552.5H125.5M1683.0 2552.5H1674.5M117.0 2590.5H125.5M1683.0 2590.5H1674.5M117.0 2628.5H125.5M1683.0 2628.5H1674.5" stroke="#000" stroke-width="1" fill="none"/>
<rect x="117.0" y="2439.0" width="1566.0" height="189.0" fill="none" stroke="#000" stroke-width="2"/>
<text x="117.50" y="2650.20" font-size="17.75" text-anchor="middle" textLength="101.38" lengthAdjust="spacingAndGlyphs">05/24 11:49</text>
<text x="509.00" y="2650.20" font-size="17.75" text-anchor="middle" textLength="101.38" lengthAdjust="spacingAndGlyphs">05/24 11:54</text>
<text x="900.50" y="2650.20" font-size="17.75" text-anchor="middle" textLength="101.38" lengthAdjust="spacingAndGlyphs">05/24 11:59</text>
<text x="1292.00" y="2650.20" font-size="17.75" text-anchor="middle" textLength="101.38" lengthAdjust="spacingAndGlyphs">05/24 12:04</text>
<text x="1683.50" y="2650.20" font-size="17.75" text-anchor="middle" textLength="101.38" lengthAdjust="spacingAndGlyphs">05/24 12:09</text>
<text x="108.00" y="2443.60" font-size="17.75" text-anchor="end" textLength="10.61" lengthAdjust="spacingAndGlyphs">5</text>
<text x="108.00" y="2481.40" font-size="17.75" text-anchor="end" textLength="10.61" lengthAdjust="spacingAndGlyphs">4</text>
<text x="108.00" y="2519.20" font-size="17.75" text-anchor="end" textLength="10.61" lengthAdjust="spacingAndGlyphs">3</text>
<text x="108.00" y="2557.00" font-size="17.75" text-anchor="end" textLength="10.61" lengthAdjust="spacingAndGlyphs">2</text>
<text x="108.00" y="2594.80" font-size="17.75" text-anchor="end" textLength="10.61" lengthAdjust="spacingAndGlyphs">1</text>
<text x="108.00" y="2632.60" font-size="17.75" text-anchor="end" textLength="10.61" lengthAdjust="spacingAndGlyphs">0</text>
<text x="900.00" y="2428.80" font-size="24.60" text-anchor="middle" textLength="143.81" lengthAdjust="spacingAndGlyphs">Plasma Beta</text>
<rect x="1608.0" y="2446.0" width="68.0" height="31.0" fill="#fff" stroke="#000" stroke-width="2"/>
<polyline points="1617.0,2459.9 1639.8,2459.9" fill="none" stroke="#0000ff" stroke-width="1.70" stroke-linejoin="round"/>
<text x="1656.11" y="2464.40" font-family="Liberation Serif" font-style="italic" font-size="14.80" textLength="8.99" lengthAdjust="spacingAndGlyphs">β</text>
<text x="1664.26" y="2466.40" font-family="Liberation Serif" font-style="italic" font-size="11.00" textLength="4.74" lengthAdjust="spacingAndGlyphs">p</text>
<g transform="translate(79.9 2567.7) rotate(-90)">
<text x="0" y="-0.5" font-family="Liberation Serif" font-style="italic" font-size="16.5">β</text>
<text x="9.2" y="3.2" font-family="Liberation Serif" font-style="italic" font-size="11.5">p</text>
<text x="21" y="0" font-size="17.75" textLength="31.36" lengthAdjust="spacingAndGlyphs">and</text>
<text x="59" y="-0.5" font-family="Liberation Serif" font-style="italic" font-size="16.5">β</text>
</g>
<polyline points="117.0,2910.5 1683.0,2910.5" fill="none" stroke="#0000ff" stroke-width="1.70" stroke-linejoin="round" clip-path="url(#c11)"/>
<path d="M117.5 2912.0V2904.0M117.5 2723.0V2731.0M509.5 2912.0V2904.0M509.5 2723.0V2731.0M900.5 2912.0V2904.0M900.5 2723.0V2731.0M1292.5 2912.0V2904.0M1292.5 2723.0V2731.0M1683.5 2912.0V2904.0M1683.5 2723.0V2731.0M117.0 2723.5H125.5M1683.0 2723.5H1674.5M117.0 2754.5H125.5M1683.0 2754.5H1674.5M117.0 2786.5H125.5M1683.0 2786.5H1674.5M117.0 2817.5H125.5M1683.0 2817.5H1674.5M117.0 2849.5H125.5M1683.0 2849.5H1674.5M117.0 2880.5H125.5M1683.0 2880.5H1674.5M117.0 2912.5H125.5M1683.0 2912.5H1674.5" stroke="#000" stroke-width="1" fill="none"/>
<rect x="117.0" y="2723.0" width="1566.0" height="189.0" fill="none" stroke="#000" stroke-width="2"/>
<text x="117.50" y="2934.20" font-size="17.75" text-anchor="middle" textLength="101.38" lengthAdjust="spacingAndGlyphs">05/24 11:49</text>
<text x="509.00" y="2934.20" font-size="17.75" text-anchor="middle" textLength="101.38" lengthAdjust="spacingAndGlyphs">05/24 11:54</text>
<text x="900.50" y="2934.20" font-size="17.75" text-anchor="middle" textLength="101.38" lengthAdjust="spacingAndGlyphs">05/24 11:59</text>
<text x="1292.00" y="2934.20" font-size="17.75" text-anchor="middle" textLength="101.38" lengthAdjust="spacingAndGlyphs">05/24 12:04</text>
<text x="1683.50" y="2934.20" font-size="17.75" text-anchor="middle" textLength="101.38" lengthAdjust="spacingAndGlyphs">05/24 12:09</text>
<text x="108.00" y="2727.60" font-size="17.75" text-anchor="end" textLength="21.21" lengthAdjust="spacingAndGlyphs">30</text>
<text x="108.00" y="2759.10" font-size="17.75" text-anchor="end" textLength="21.21" lengthAdjust="spacingAndGlyphs">25</text>
<text x="108.00" y="2790.60" font-size="17.75" text-anchor="end" textLength="21.21" lengthAdjust="spacingAndGlyphs">20</text>
<text x="108.00" y="2822.10" font-size="17.75" text-anchor="end" textLength="21.21" lengthAdjust="spacingAndGlyphs">15</text>
<text x="108.00" y="2853.60" font-size="17.75" text-anchor="end" textLength="21.21" lengthAdjust="spacingAndGlyphs">10</text>
<text x="108.00" y="2885.10" font-size="17.75" text-anchor="end" textLength="10.61" lengthAdjust="spacingAndGlyphs">5</text>
<text x="108.00" y="2916.60" font-size="17.75" text-anchor="end" textLength="10.61" lengthAdjust="spacingAndGlyphs">0</text>
<text x="900.00" y="2711.90" font-size="24.60" text-anchor="middle" textLength="269.78" lengthAdjust="spacingAndGlyphs">Proton Number Density</text>
<text transform="translate(73.90 2819.30) rotate(-90)" x="0" y="0" font-size="17.75" text-anchor="middle" textLength="73.97" lengthAdjust="spacingAndGlyphs">Np(#/cc)</text>
<polyline points="117.0,3128.4 195.3,3113.2 586.8,3121.7 743.4,3122.3 1134.9,3085.5 1291.5,3096.0 1369.8,3109.2 1526.4,3123.2 1683.0,3125.3" fill="none" stroke="#0000ff" stroke-width="1.70" stroke-linejoin="round" clip-path="url(#c12)"/>
<path d="M117.5 3195.0V3187.0M117.5 3006.0V3014.0M509.5 3195.0V3187.0M509.5 3006.0V3014.0M900.5 3195.0V3187.0M900.5 3006.0V3014.0M1292.5 3195.0V3187.0M1292.5 3006.0V3014.0M1683.5 3195.0V3187.0M1683.5 3006.0V3014.0M117.0 3006.5H125.5M1683.0 3006.5H1674.5M117.0 3043.5H125.5M1683.0 3043.5H1674.5M117.0 3081.5H125.5M1683.0 3081.5H1674.5M117.0 3119.5H125.5M1683.0 3119.5H1674.5M117.0 3157.5H125.5M1683.0 3157.5H1674.5M117.0 3195.5H125.5M1683.0 3195.5H1674.5" stroke="#000" stroke-width="1" fill="none"/>
<rect x="117.0" y="3006.0" width="1566.0" height="189.0" fill="none" stroke="#000" stroke-width="2"/>
<text x="117.50" y="3217.20" font-size="17.75" text-anchor="middle" textLength="101.38" lengthAdjust="spacingAndGlyphs">05/24 11:49</text>
<text x="509.00" y="3217.20" font-size="17.75" text-anchor="middle" textLength="101.38" lengthAdjust="spacingAndGlyphs">05/24 11:54</text>
<text x="900.50" y="3217.20" font-size="17.75" text-anchor="middle" textLength="101.38" lengthAdjust="spacingAndGlyphs">05/24 11:59</text>
<text x="1292.00" y="3217.20" font-size="17.75" text-anchor="middle" textLength="101.38" lengthAdjust="spacingAndGlyphs">05/24 12:04</text>
<text x="1683.50" y="3217.20" font-size="17.75" text-anchor="middle" textLength="101.38" lengthAdjust="spacingAndGlyphs">05/24 12:09</text>
<text x="108.00" y="3010.60" font-size="17.75" text-anchor="end" textLength="26.51" lengthAdjust="spacingAndGlyphs">0.5</text>
<text x="108.00" y="3048.40" font-size="17.75" text-anchor="end" textLength="26.51" lengthAdjust="spacingAndGlyphs">0.4</text>
<text x="108.00" y="3086.20" font-size="17.75" text-anchor="end" textLength="26.51" lengthAdjust="spacingAndGlyphs">0.3</text>
<text x="108.00" y="3124.00" font-size="17.75" text-anchor="end" textLength="26.51" lengthAdjust="spacingAndGlyphs">0.2</text>
<text x="108.00" y="3161.80" font-size="17.75" text-anchor="end" textLength="26.51" lengthAdjust="spacingAndGlyphs">0.1</text>
<text x="108.00" y="3199.60" font-size="17.75" text-anchor="end" textLength="26.51" lengthAdjust="spacingAndGlyphs">0.0</text>
<text x="727.70" y="2993.60" font-size="24.60" text-anchor="start" textLength="278.95" lengthAdjust="spacingAndGlyphs">Proton Temperature and</text>
<text x="1016.20" y="2993.60" font-family="Liberation Serif" font-style="italic" font-size="22.80" textLength="14.17" lengthAdjust="spacingAndGlyphs">T</text>
<text x="1030.80" y="2996.60" font-family="Liberation Serif" font-style="italic" font-size="15.00" textLength="6.20" lengthAdjust="spacingAndGlyphs">e</text>
<line x1="1040.6" y1="2999.2" x2="1048.6" y2="2977.8" stroke="#000" stroke-width="1.15"/>
<text x="1050.10" y="2993.60" font-family="Liberation Serif" font-style="italic" font-size="22.80" textLength="14.45" lengthAdjust="spacingAndGlyphs">T</text>
<text x="1063.33" y="2996.60" font-family="Liberation Serif" font-style="italic" font-size="15.00" textLength="7.87" lengthAdjust="spacingAndGlyphs">p</text>
<rect x="124.0" y="3013.0" width="71.0" height="27.0" fill="#fff" stroke="#000" stroke-width="2"/>
<polyline points="134.4,3025.9 156.8,3025.9" fill="none" stroke="#0000ff" stroke-width="1.70" stroke-linejoin="round"/>
<text x="170.50" y="3030.60" font-size="15.76" text-anchor="start" textLength="18.44" lengthAdjust="spacingAndGlyphs">Tp</text>
<g transform="translate(63.9 3134.5) rotate(-90)">
<text x="-1" y="0" font-size="17.75" textLength="27.27" lengthAdjust="spacingAndGlyphs">Tp(</text>
<text x="25.5" y="0" font-family="Liberation Serif" font-size="16.5">10</text>
<text x="42.5" y="-7" font-family="Liberation Serif" font-size="11.5">6</text>
<text x="49" y="0" font-size="17.75" textLength="17.44" lengthAdjust="spacingAndGlyphs">K)</text>
</g></svg></body></html>
